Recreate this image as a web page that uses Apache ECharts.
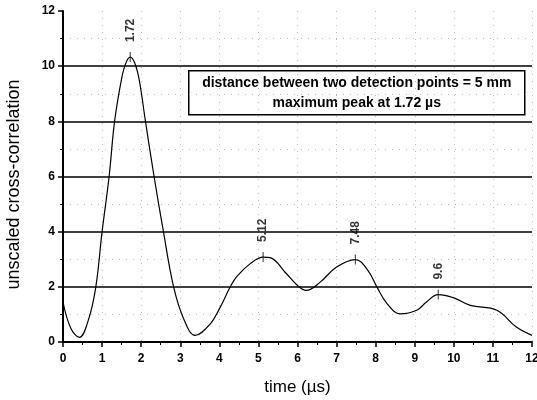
<!DOCTYPE html>
<html><head><meta charset="utf-8">
<script src="https://cdn.jsdelivr.net/npm/echarts@6/dist/echarts.min.js"></script>
<style>html,body{margin:0;padding:0;background:#fff}#c{width:537px;height:400px}</style>
</head><body><div id="c"></div>
<script>
const times  = [0, 0.2, 0.42, 0.65, 0.84, 1.0, 1.18, 1.32, 1.5, 1.61, 1.72, 1.84, 1.95, 2.11, 2.33, 2.57, 2.83, 3.1, 3.38, 3.77, 4.0, 4.28, 4.45, 4.8, 5.12, 5.3, 5.7, 6.0, 6.22, 6.58, 7.0, 7.48, 7.8, 8.03, 8.29, 8.63, 9.05, 9.3, 9.6, 10.0, 10.42, 11.1, 11.6, 12.0];
const values = [1.45, 0.5, 0.17, 0.8, 2.0, 4.0, 6.0, 8.0, 9.55, 10.12, 10.33, 10.1, 9.5, 8.0, 6.0, 4.0, 2.0, 0.8, 0.24, 0.66, 1.2, 2.0, 2.38, 2.85, 3.08, 3.06, 2.5, 2.05, 1.87, 2.17, 2.72, 2.99, 2.6, 2.0, 1.39, 1.02, 1.15, 1.45, 1.72, 1.6, 1.33, 1.15, 0.54, 0.24];
const peakTimes  = [1.72, 5.12, 7.48, 9.6];
const peakValues = [10.33, 3.08, 2.99, 1.72];
const peakLabels = ["1.72", "5.12", "7.48", "9.6"];
const yTicks = [0, 2, 4, 6, 8, 10, 12];
const xTicks = [0,1,2,3,4,5,6,7,8,9,10,11,12];
const boxLines = ["distance between two detection points = 5 mm", "maximum peak at 1.72 \u00b5s"];

const FONT = "Liberation Sans, Arial, sans-serif";
const chart = echarts.init(document.getElementById('c'), null, {renderer: 'canvas'});
chart.setOption({
  animation: false,
  backgroundColor: '#fff',
  grid: {left: 63, right: 5, top: 11, bottom: 58, outerBoundsMode: 'none', containLabel: false},
  xAxis: {
    type: 'value', min: xTicks[0], max: xTicks[xTicks.length-1], interval: 1,
    name: 'time (\u00b5s)', nameLocation: 'middle', nameGap: 37,
    nameTextStyle: {fontFamily: FONT, fontSize: 17, color: '#000'},
    axisLine: {lineStyle: {color: '#000', width: 2}},
    axisTick: {show: true, length: 5, lineStyle: {color: '#000', width: 1.5}},
    minorTick: {show: true, splitNumber: 2, length: 3, lineStyle: {color: '#000'}},
    axisLabel: {fontFamily: FONT, fontSize: 12, fontWeight: 'bold', color: '#000', margin: 11},
    splitLine: {show: true, lineStyle: {color: '#bbb', type: [1, 6], width: 1}}
  },
  yAxis: {
    type: 'value', min: yTicks[0], max: yTicks[yTicks.length-1], interval: 2,
    name: 'unscaled cross-correlation', nameLocation: 'middle', nameGap: 40,
    nameTextStyle: {fontFamily: FONT, fontSize: 18, color: '#000', padding: [0, 16, 0, 0]},
    axisLine: {show: true, lineStyle: {color: '#000', width: 2}},
    axisTick: {show: true, length: 5, lineStyle: {color: '#000', width: 1.5}},
    minorTick: {show: true, splitNumber: 2, length: 3, lineStyle: {color: '#000'}},
    axisLabel: {fontFamily: FONT, fontSize: 12, fontWeight: 'bold', color: '#000', margin: 8},
    splitLine: {show: true, lineStyle: {color: ['#000', '#000', '#000', '#000', '#000', '#000', 'rgba(0,0,0,0)'], width: 1.6}},
    minorSplitLine: {show: true, lineStyle: {color: '#bbb', type: [1, 6], width: 1}}
  },
  graphic: [{
    type: 'group', left: 188, top: 70,
    children: [
      {type: 'rect', shape: {x: 0, y: 0, width: 336, height: 44}, style: {fill: '#fff', stroke: '#000', lineWidth: 1.5}},
      {type: 'text', style: {x: 168, y: 12, text: boxLines[0], align: 'center', verticalAlign: 'middle', font: 'bold 14px ' + FONT, fill: '#000'}},
      {type: 'text', style: {x: 168, y: 32, text: boxLines[1], align: 'center', verticalAlign: 'middle', font: 'bold 14px ' + FONT, fill: '#000'}}
    ]
  }],
  series: [{
    type: 'line', smooth: 0.4, symbol: 'none',
    lineStyle: {color: '#000', width: 1.2},
    data: times.map((t, i) => [t, values[i]]),
    z: 5
  }, {
    type: 'scatter', symbol: 'rect', symbolSize: [1, 10],
    itemStyle: {color: '#000'},
    data: peakTimes.map((t, i) => ({value: [t, peakValues[i]], label: {formatter: peakLabels[i]}})),
    label: {show: true, position: 'top', rotate: 90, align: 'left', verticalAlign: 'middle', distance: 10,
      fontFamily: FONT, fontSize: 12, fontWeight: 'bold', color: '#000'},
    z: 6
  }]
});
</script></body></html>
